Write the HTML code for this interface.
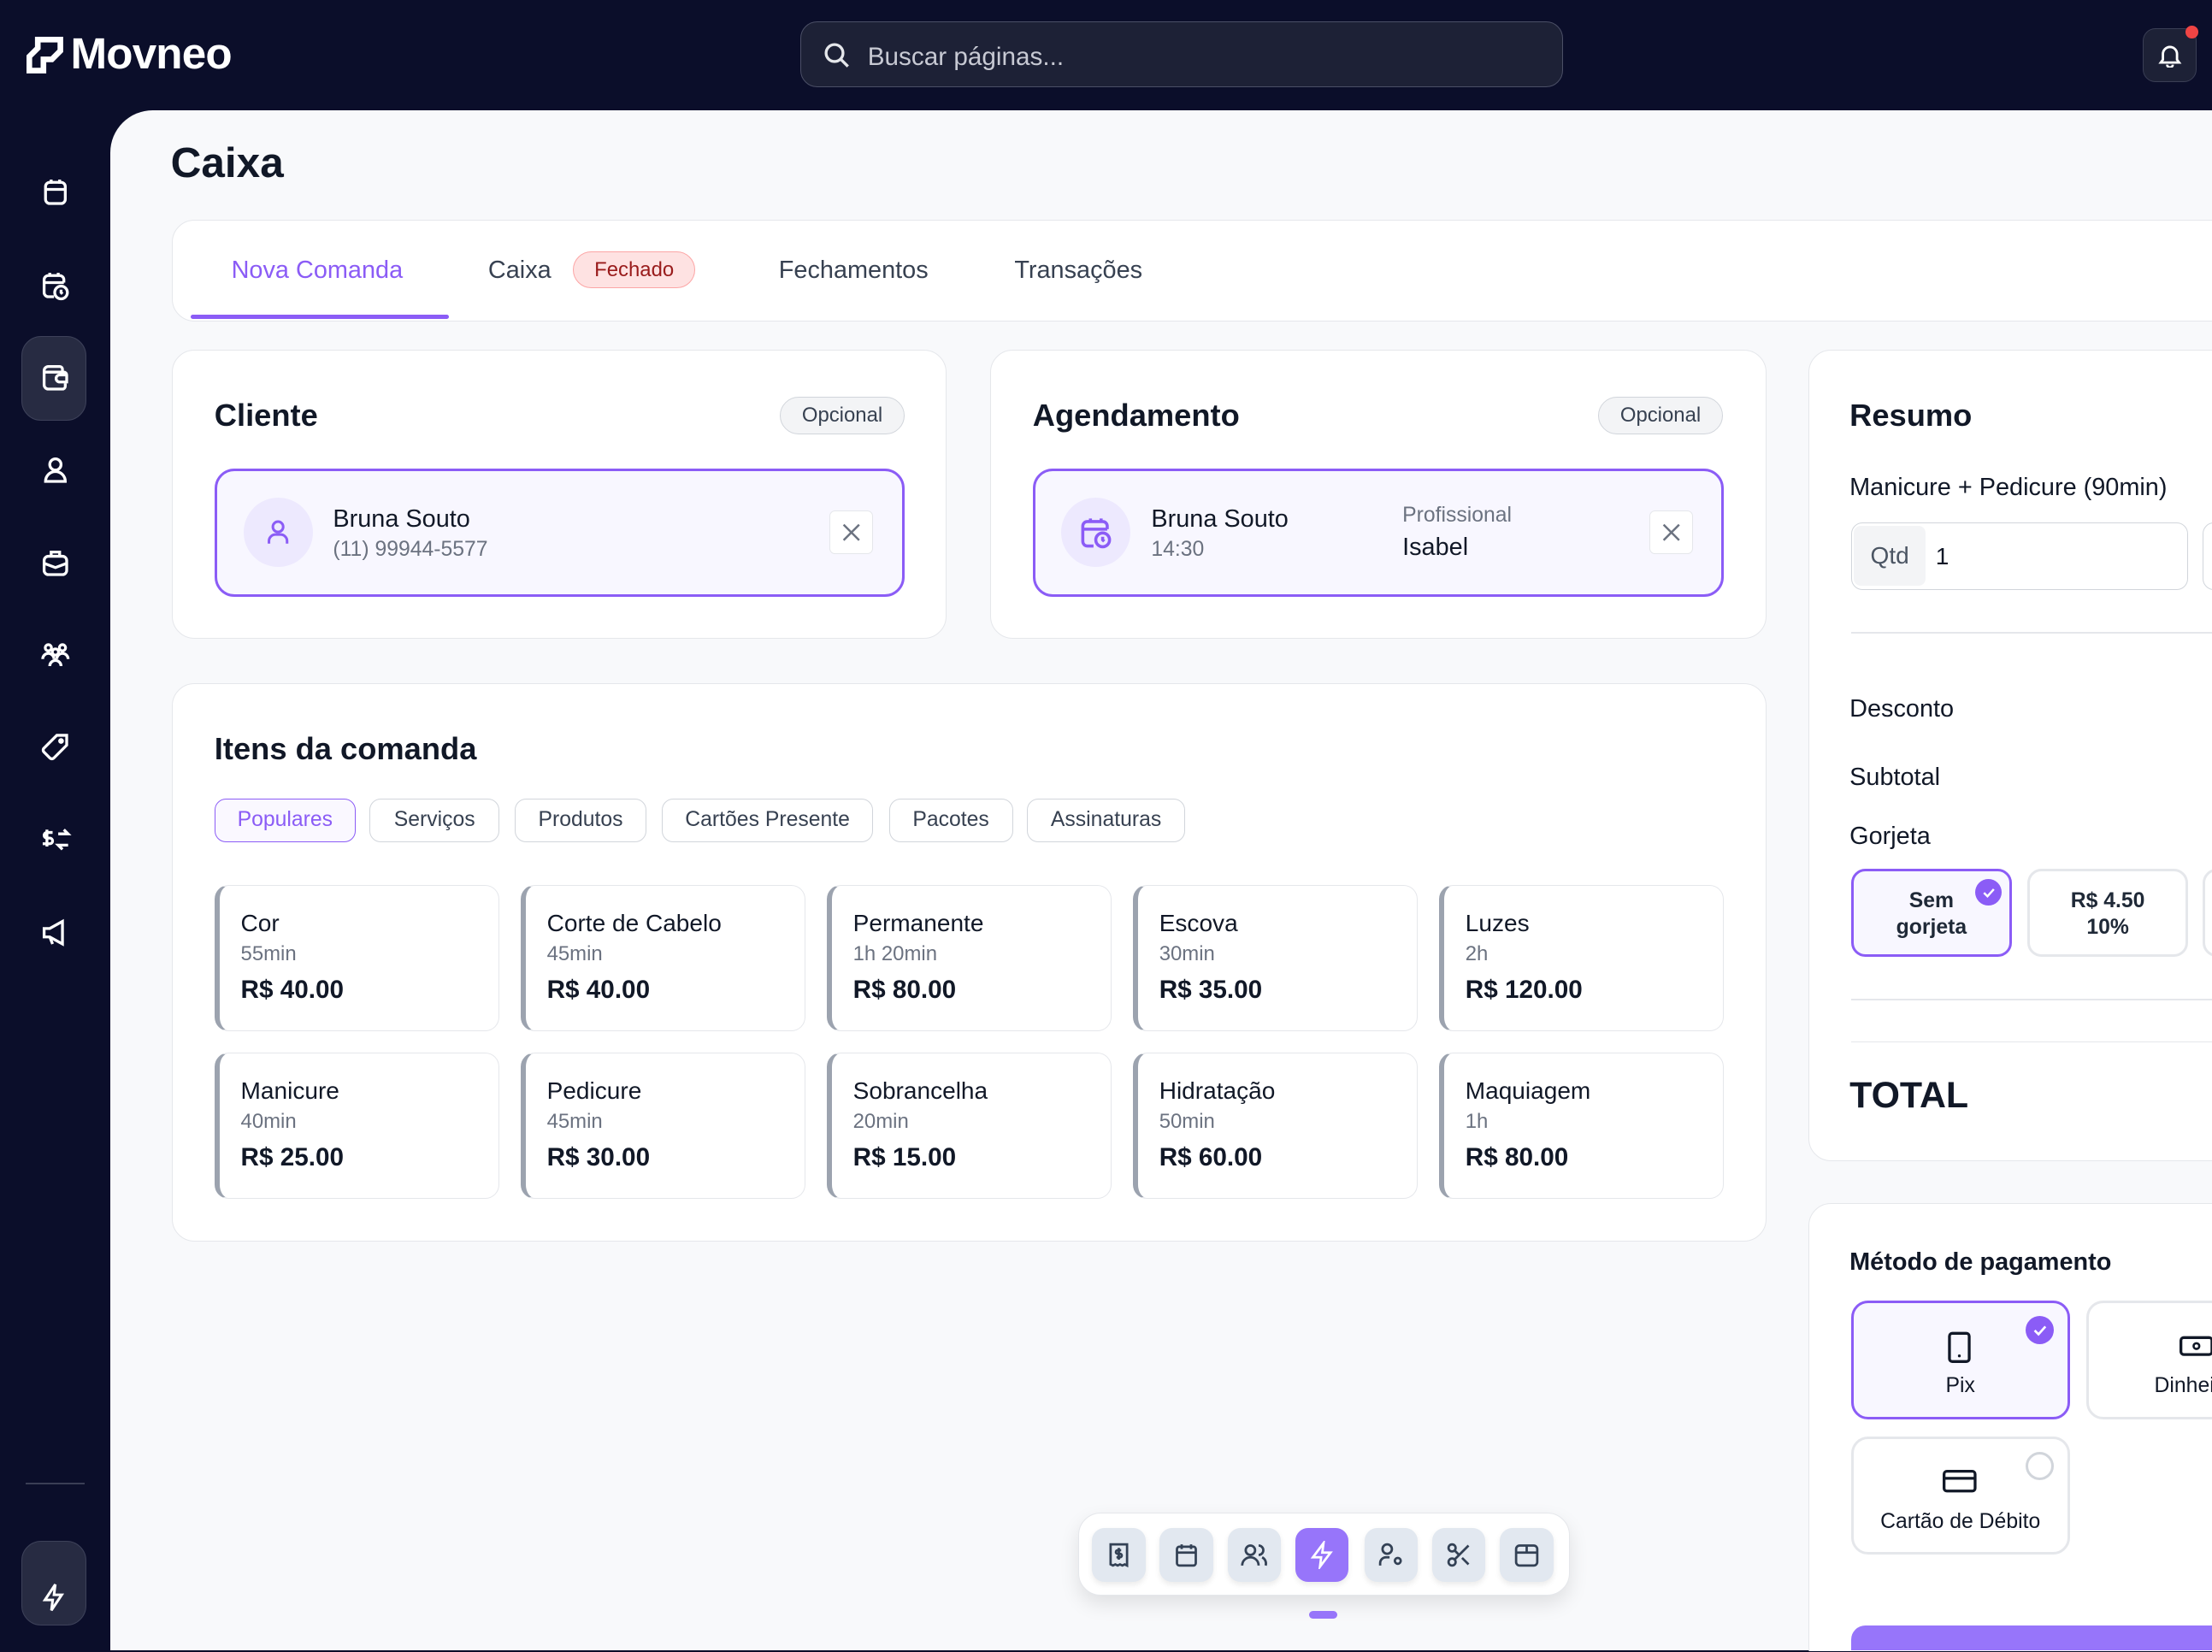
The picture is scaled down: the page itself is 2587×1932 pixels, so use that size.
<!DOCTYPE html>
<html><head><meta charset="utf-8"><style>
html,body{margin:0;padding:0;width:2587px;height:1932px;overflow:hidden;background:#0b0e2a}
#r{zoom:1.65;position:relative;width:1568px;height:1170px;overflow:hidden;background:#0b0e2a;font-family:"Liberation Sans",sans-serif;color:#111827}
.a{position:absolute}
.card{position:absolute;background:#fff;border:1px solid #e5e7eb;border-radius:16px;box-sizing:border-box}
.t{position:absolute;white-space:nowrap}
.chip{position:absolute;top:566px;height:31px;border:1px solid #d1d5db;border-radius:8px;box-sizing:border-box;font-size:15px;color:#374151;text-align:center;line-height:29px;background:#fff}
.item{position:absolute;width:202px;height:104px;background:#fff;border:1px solid #e5e7eb;border-left:4px solid #9ca3af;border-radius:10px;box-sizing:border-box}
.item .n{position:absolute;left:15px;top:17px;font-size:17px;color:#111827}
.item .d{position:absolute;left:15px;top:40px;font-size:14.5px;color:#6b7280}
.item .p{position:absolute;left:15px;top:64px;font-size:18px;font-weight:bold;color:#111827}
.sic{position:absolute;left:27px;width:24px;height:24px}
.db{position:absolute;top:1083px;width:38px;height:38px;border-radius:9px;background:#e2e8f0;box-shadow:0 2px 4px rgba(0,0,0,.08)}
svg{display:block}
</style></head><body><div id="r">
<svg class="a" style="left:19px;top:26px" width="26" height="26" viewBox="0 0 26 26"><path d="M8 2h16v8l-6 6h-6v8H2v-10l6-6z" fill="none" stroke="#fff" stroke-width="4"/></svg>
<div class="t" style="left:50px;top:20px;font-size:31px;font-weight:bold;color:#fff;letter-spacing:-0.5px">Movneo</div>
<div class="a" style="left:567px;top:15px;width:541px;height:47px;box-sizing:border-box;border:1px solid #4b4f66;border-radius:12px;background:#1d2136"></div>
<svg class="a" style="left:583px;top:29px" width="20" height="20" viewBox="0 0 20 20"><circle cx="8.5" cy="8.5" r="6" fill="none" stroke="#e5e7eb" stroke-width="2"/><path d="M13 13l5 5" stroke="#e5e7eb" stroke-width="2"/></svg>
<div class="t" style="left:615px;top:30px;font-size:18px;color:#c7c9d3">Buscar páginas...</div>
<div class="a" style="left:1519px;top:20px;width:38px;height:38px;border-radius:9px;background:#1d2136;border:1px solid #3a3e55;box-sizing:border-box"></div>
<svg class="a" style="left:1529px;top:30px" width="18" height="18" viewBox="0 0 18 18"><path d="M4 12V8a5 5 0 0110 0v4l1.5 2h-13z M7 15.5a2 2 0 004 0" fill="none" stroke="#fff" stroke-width="1.7"/></svg>
<div class="a" style="left:1549px;top:18px;width:9px;height:9px;border-radius:50%;background:#ef4444"></div>
<div class="a" style="left:15px;top:238px;width:46px;height:60px;border-radius:14px;background:#272b42;border:1px solid #3d4159;box-sizing:border-box"></div>
<svg class="sic" style="top:124px" viewBox="0 0 24 24" fill="none" stroke="#fff" stroke-width="2"><rect x="5" y="5" width="14" height="15" rx="3"/><path d="M5 10h14M9 3v3M15 3v3"/></svg>
<svg class="sic" style="top:190px" viewBox="0 0 24 24" fill="none" stroke="#fff" stroke-width="2"><path d="M11 20H7a3 3 0 01-3-3V8a3 3 0 013-3h8a3 3 0 013 3v2M4 10h14M8 3v3M14 3v3"/><circle cx="16" cy="17" r="4.5"/><path d="M16 15v2l1 1"/></svg>
<svg class="sic" style="top:256px" viewBox="0 0 24 24" fill="none" stroke="#fff" stroke-width="2"><path d="M17 7V6a2 2 0 00-2-2H7a3 3 0 00-3 3v10a3 3 0 003 3h10a2 2 0 002-2v-2"/><path d="M4 8h14a2 2 0 012 2v5h-5a2.5 2.5 0 010-5h5"/></svg>
<svg class="sic" style="top:321px" viewBox="0 0 24 24" fill="none" stroke="#fff" stroke-width="2"><circle cx="12" cy="8" r="4"/><path d="M5 20a7 7 0 0114 0z"/></svg>
<svg class="sic" style="top:387px" viewBox="0 0 24 24" fill="none" stroke="#fff" stroke-width="2"><rect x="4" y="7" width="16" height="13" rx="3"/><path d="M9 7V4h6v3M4 12l8 3 8-3"/></svg>
<svg class="sic" style="top:452px" viewBox="0 0 24 24" fill="none" stroke="#fff" stroke-width="2"><circle cx="7" cy="7" r="2.2"/><circle cx="17" cy="7" r="2.2"/><circle cx="12" cy="10" r="2.2"/><path d="M3 15a4 4 0 018 0M13 15a4 4 0 018 0M8 20a4 4 0 018 0"/></svg>
<svg class="sic" style="top:518px" viewBox="0 0 24 24" fill="none" stroke="#fff" stroke-width="2"><path d="M13 3h7v7L11 19a2 2 0 01-3 0l-4-4a2 2 0 010-3z"/><circle cx="16" cy="7" r="1"/></svg>
<svg class="sic" style="top:583px" viewBox="0 0 24 24" fill="none" stroke="#fff" stroke-width="2"><path d="M10 7H6a2 2 0 000 4h2a2 2 0 010 4H3M6 5v12M14 8h7l-3-3M21 16h-7l3 3"/></svg>
<svg class="sic" style="top:649px" viewBox="0 0 24 24" fill="none" stroke="#fff" stroke-width="2"><path d="M4 9h4l9-5v16l-9-5H4z M8 15l2 5"/></svg>
<div class="a" style="left:18px;top:1051px;width:42px;height:1px;background:#3a3e55"></div>
<div class="a" style="left:15px;top:1092px;width:46px;height:60px;border-radius:14px;background:#272b42;border:1px solid #3d4159;box-sizing:border-box"></div>
<svg class="a" style="left:27px;top:1121px" width="22" height="22" viewBox="0 0 24 24" fill="none" stroke="#fff" stroke-width="2"><path d="M13 2L5 14h6l-1 8 8-12h-6z"/></svg>
<div class="a" style="left:78px;top:78px;width:1490px;height:1092px;background:#f8f9fb;border-top-left-radius:30px"></div>
<div class="t" style="left:121px;top:98px;font-size:30px;font-weight:bold;color:#111827">Caixa</div>
<div class="card" style="left:122px;top:156px;width:1470px;height:72px"></div>
<div class="t" style="left:164px;top:182px;font-size:17.5px;color:#8b5cf6">Nova Comanda</div>
<div class="a" style="left:135px;top:223px;width:183px;height:3px;background:#8b5cf6;border-radius:2px"></div>
<div class="t" style="left:346px;top:182px;font-size:17.5px;color:#374151">Caixa</div>
<div class="a" style="left:406px;top:178px;width:87px;height:26px;box-sizing:border-box;border:1px solid #fca5a5;background:#fee2e2;border-radius:13px;color:#991b1b;font-size:14.5px;text-align:center;line-height:25px">Fechado</div>
<div class="t" style="left:552px;top:182px;font-size:17.5px;color:#374151">Fechamentos</div>
<div class="t" style="left:719px;top:182px;font-size:17.5px;color:#374151">Transações</div>
<div class="card" style="left:122px;top:248px;width:549px;height:205px"></div>
<div class="t" style="left:152px;top:282px;font-size:22px;font-weight:bold">Cliente</div>
<div class="a" style="left:553px;top:281px;width:88px;height:27px;box-sizing:border-box;border:1px solid #d1d5db;background:#f3f4f6;border-radius:14px;font-size:14.5px;color:#374151;text-align:center;line-height:26px">Opcional</div>
<div class="a" style="left:152px;top:332px;width:489px;height:91px;box-sizing:border-box;border:2px solid #8b5cf6;border-radius:14px;background:#f8f7ff"></div>
<div class="a" style="left:173px;top:353px;width:49px;height:49px;border-radius:50%;background:#ede9fe"></div>
<svg class="a" style="left:186px;top:366px" width="22" height="22" viewBox="0 0 24 24" fill="none" stroke="#8b5cf6" stroke-width="2"><circle cx="12" cy="8" r="4"/><path d="M5 21v-2a5 5 0 015-5h4a5 5 0 015 5v2"/></svg>
<div class="t" style="left:236px;top:358px;font-size:17.5px;color:#111827">Bruna Souto</div>
<div class="t" style="left:236px;top:381px;font-size:15px;color:#6b7280">(11) 99944-5577</div>
<div class="a" style="left:588px;top:362px;width:31px;height:31px;box-sizing:border-box;border:1px solid #e5e7eb;background:#fff;border-radius:4px"></div>
<svg class="a" style="left:597px;top:371px" width="13" height="13" viewBox="0 0 13 13"><path d="M1 1l11 11M12 1L1 12" stroke="#6b7280" stroke-width="1.5"/></svg>
<div class="card" style="left:702px;top:248px;width:550px;height:205px"></div>
<div class="t" style="left:732px;top:282px;font-size:22px;font-weight:bold">Agendamento</div>
<div class="a" style="left:1133px;top:281px;width:88px;height:27px;box-sizing:border-box;border:1px solid #d1d5db;background:#f3f4f6;border-radius:14px;font-size:14.5px;color:#374151;text-align:center;line-height:26px">Opcional</div>
<div class="a" style="left:732px;top:332px;width:490px;height:91px;box-sizing:border-box;border:2px solid #8b5cf6;border-radius:14px;background:#f8f7ff"></div>
<div class="a" style="left:752px;top:353px;width:49px;height:49px;border-radius:50%;background:#ede9fe"></div>
<svg class="a" style="left:764px;top:364px" width="26" height="26" viewBox="0 0 24 24" fill="none" stroke="#8b5cf6" stroke-width="2"><path d="M10 21H6a3 3 0 01-3-3V8a3 3 0 013-3h10a3 3 0 013 3v2M3 10h16M8 3v3M15 3v3"/><circle cx="16" cy="17" r="4.5"/><path d="M16 15v2l1 1"/></svg>
<div class="t" style="left:816px;top:358px;font-size:17.5px;color:#111827">Bruna Souto</div>
<div class="t" style="left:816px;top:381px;font-size:15px;color:#6b7280">14:30</div>
<div class="t" style="left:994px;top:357px;font-size:15px;color:#6b7280">Profissional</div>
<div class="t" style="left:994px;top:378px;font-size:17.5px;color:#111827">Isabel</div>
<div class="a" style="left:1169px;top:362px;width:31px;height:31px;box-sizing:border-box;border:1px solid #e5e7eb;background:#fff;border-radius:4px"></div>
<svg class="a" style="left:1178px;top:371px" width="13" height="13" viewBox="0 0 13 13"><path d="M1 1l11 11M12 1L1 12" stroke="#6b7280" stroke-width="1.5"/></svg>
<div class="card" style="left:122px;top:484px;width:1130px;height:396px"></div>
<div class="t" style="left:152px;top:518px;font-size:22px;font-weight:bold">Itens da comanda</div>
<div class="chip" style="left:152px;width:100px;border-color:#8b5cf6;color:#8b5cf6;background:#faf8ff">Populares</div>
<div class="chip" style="left:262px;width:92px">Serviços</div>
<div class="chip" style="left:365px;width:93px">Produtos</div>
<div class="chip" style="left:469px;width:150px">Cartões Presente</div>
<div class="chip" style="left:630px;width:88px">Pacotes</div>
<div class="chip" style="left:728px;width:112px">Assinaturas</div>
<div class="item" style="left:152px;top:627px"><div class="n">Cor</div><div class="d">55min</div><div class="p">R$ 40.00</div></div>
<div class="item" style="left:369px;top:627px"><div class="n">Corte de Cabelo</div><div class="d">45min</div><div class="p">R$ 40.00</div></div>
<div class="item" style="left:586px;top:627px"><div class="n">Permanente</div><div class="d">1h 20min</div><div class="p">R$ 80.00</div></div>
<div class="item" style="left:803px;top:627px"><div class="n">Escova</div><div class="d">30min</div><div class="p">R$ 35.00</div></div>
<div class="item" style="left:1020px;top:627px"><div class="n">Luzes</div><div class="d">2h</div><div class="p">R$ 120.00</div></div>
<div class="item" style="left:152px;top:746px"><div class="n">Manicure</div><div class="d">40min</div><div class="p">R$ 25.00</div></div>
<div class="item" style="left:369px;top:746px"><div class="n">Pedicure</div><div class="d">45min</div><div class="p">R$ 30.00</div></div>
<div class="item" style="left:586px;top:746px"><div class="n">Sobrancelha</div><div class="d">20min</div><div class="p">R$ 15.00</div></div>
<div class="item" style="left:803px;top:746px"><div class="n">Hidratação</div><div class="d">50min</div><div class="p">R$ 60.00</div></div>
<div class="item" style="left:1020px;top:746px"><div class="n">Maquiagem</div><div class="d">1h</div><div class="p">R$ 80.00</div></div>
<div class="card" style="left:1282px;top:248px;width:310px;height:575px"></div>
<div class="t" style="left:1311px;top:282px;font-size:22px;font-weight:bold">Resumo</div>
<div class="t" style="left:1311px;top:336px;font-size:17.5px">Manicure + Pedicure (90min)</div>
<div class="a" style="left:1312px;top:370px;width:239px;height:48px;box-sizing:border-box;border:1px solid #d1d5db;border-radius:8px;background:#fff"></div>
<div class="a" style="left:1314px;top:373px;width:51px;height:42px;border-radius:5px;background:#f3f4f6;font-size:17px;color:#4b5563;text-align:center;line-height:42px">Qtd</div>
<div class="t" style="left:1372px;top:385px;font-size:17px">1</div>
<div class="a" style="left:1561px;top:370px;width:60px;height:48px;box-sizing:border-box;border:1px solid #d1d5db;border-radius:8px;background:#fff"></div>
<div class="a" style="left:1312px;top:448px;width:300px;height:1px;background:#e5e7eb"></div>
<div class="t" style="left:1311px;top:493px;font-size:17.5px;color:#111827">Desconto</div>
<div class="t" style="left:1311px;top:541px;font-size:17.5px;color:#111827">Subtotal</div>
<div class="t" style="left:1311px;top:583px;font-size:17.5px;color:#111827">Gorjeta</div>
<div class="a" style="left:1312px;top:616px;width:114px;height:62px;box-sizing:border-box;border:2px solid #8b5cf6;border-radius:10px;background:#f8f7ff;font-size:15px;font-weight:bold;text-align:center;padding-top:11px;line-height:19px;color:#1f2937">Sem<br>gorjeta</div>
<div class="a" style="left:1400px;top:623px;width:19px;height:19px;border-radius:50%;background:#8b5cf6"></div>
<svg class="a" style="left:1404px;top:627px" width="11" height="11" viewBox="0 0 11 11"><path d="M2 5.5l2.5 2.5L9 3" fill="none" stroke="#fff" stroke-width="1.5"/></svg>
<div class="a" style="left:1437px;top:616px;width:114px;height:62px;box-sizing:border-box;border:2px solid #e5e7eb;border-radius:10px;background:#fff;font-size:15px;font-weight:bold;text-align:center;padding-top:11px;line-height:19px;color:#1f2937">R$ 4.50<br>10%</div>
<div class="a" style="left:1561px;top:616px;width:60px;height:62px;box-sizing:border-box;border:2px solid #e5e7eb;border-radius:10px;background:#fff"></div>
<div class="a" style="left:1312px;top:708px;width:300px;height:1px;background:#e5e7eb"></div>
<div class="a" style="left:1312px;top:738px;width:300px;height:1px;background:#e5e7eb"></div>
<div class="t" style="left:1311px;top:762px;font-size:26px;font-weight:bold">TOTAL</div>
<div class="card" style="left:1282px;top:853px;width:310px;height:330px"></div>
<div class="t" style="left:1311px;top:885px;font-size:17.5px;font-weight:bold">Método de pagamento</div>
<div class="a" style="left:1312px;top:922px;width:155px;height:84px;box-sizing:border-box;border:2px solid #8b5cf6;border-radius:12px;background:#f8f7ff"></div>
<svg class="a" style="left:1379px;top:943px" width="20" height="24" viewBox="0 0 20 24"><rect x="3" y="2" width="14" height="20" rx="2" fill="none" stroke="#111827" stroke-width="2"/><circle cx="10" cy="18" r="1" fill="#111827"/></svg>
<div class="t" style="left:1312px;top:974px;width:155px;text-align:center;font-size:15px">Pix</div>
<div class="a" style="left:1436px;top:933px;width:20px;height:20px;border-radius:50%;background:#8b5cf6"></div>
<svg class="a" style="left:1440px;top:937px" width="12" height="12" viewBox="0 0 11 11"><path d="M2 5.5l2.5 2.5L9 3" fill="none" stroke="#fff" stroke-width="1.5"/></svg>
<div class="a" style="left:1479px;top:922px;width:155px;height:84px;box-sizing:border-box;border:2px solid #e5e7eb;border-radius:12px;background:#fff"></div>
<svg class="a" style="left:1545px;top:946px" width="24" height="16" viewBox="0 0 24 16"><rect x="1" y="2" width="22" height="12" rx="2" fill="none" stroke="#111827" stroke-width="2"/><circle cx="12" cy="8" r="2" fill="none" stroke="#111827" stroke-width="1.6"/></svg>
<div class="t" style="left:1527px;top:974px;font-size:15px">Dinheiro</div>
<div class="a" style="left:1312px;top:1018px;width:155px;height:84px;box-sizing:border-box;border:2px solid #e5e7eb;border-radius:12px;background:#fff"></div>
<svg class="a" style="left:1377px;top:1042px" width="24" height="16" viewBox="0 0 24 16"><rect x="1" y="1" width="22" height="14" rx="2" fill="none" stroke="#111827" stroke-width="2"/><path d="M1 6h22" stroke="#111827" stroke-width="2"/></svg>
<div class="t" style="left:1312px;top:1070px;width:155px;text-align:center;font-size:15px">Cartão de Débito</div>
<div class="a" style="left:1436px;top:1029px;width:20px;height:20px;border-radius:50%;box-sizing:border-box;border:2px solid #d1d5db;background:#fff"></div>
<div class="a" style="left:1312px;top:1152px;width:256px;height:18px;border-radius:10px 0 0 0;background:#9775fa"></div>
<div class="a" style="left:764px;top:1072px;width:349px;height:59px;background:#fff;border:1px solid #e5e7eb;border-radius:16px;box-sizing:border-box;box-shadow:0 6px 14px rgba(0,0,0,.1)"></div>
<div class="db" style="left:774px"></div><div class="db" style="left:822px"></div><div class="db" style="left:870px"></div>
<div class="db" style="left:918px;background:#9775fa"></div>
<div class="db" style="left:967px"></div><div class="db" style="left:1015px"></div><div class="db" style="left:1063px"></div>
<svg class="a" style="left:783px;top:1092px" width="20" height="20" viewBox="0 0 24 24" fill="none" stroke="#334155" stroke-width="2"><path d="M5 3h14v18l-2-1-2 1-2-1-2 1-2-1-2 1-2-1z M14 8h-3a1.5 1.5 0 000 3h2a1.5 1.5 0 010 3h-3M12 6v10"/></svg>
<svg class="a" style="left:831px;top:1092px" width="20" height="20" viewBox="0 0 24 24" fill="none" stroke="#334155" stroke-width="2"><rect x="4" y="5" width="16" height="16" rx="2"/><path d="M4 10h16M8 3v4M16 3v4"/></svg>
<svg class="a" style="left:879px;top:1092px" width="20" height="20" viewBox="0 0 24 24" fill="none" stroke="#334155" stroke-width="2"><circle cx="9" cy="8" r="4"/><path d="M2 21a7 7 0 0114 0M16 4a4 4 0 010 8M19 14a6 6 0 013 7"/></svg>
<svg class="a" style="left:927px;top:1092px" width="20" height="20" viewBox="0 0 24 24" fill="none" stroke="#fff" stroke-width="2"><path d="M13 2L4 14h7l-1 8 9-12h-7z"/></svg>
<svg class="a" style="left:976px;top:1092px" width="20" height="20" viewBox="0 0 24 24" fill="none" stroke="#334155" stroke-width="2"><circle cx="9" cy="7" r="4"/><path d="M3 21v-2a5 5 0 015-5h3"/><circle cx="18" cy="17" r="2.5"/></svg>
<svg class="a" style="left:1024px;top:1092px" width="20" height="20" viewBox="0 0 24 24" fill="none" stroke="#334155" stroke-width="2"><circle cx="6" cy="6" r="3"/><circle cx="6" cy="18" r="3"/><path d="M20 4L8.1 15.9M14.5 14.5L20 20M8.1 8.1L12 12"/></svg>
<svg class="a" style="left:1072px;top:1092px" width="20" height="20" viewBox="0 0 24 24" fill="none" stroke="#334155" stroke-width="2"><rect x="3" y="4" width="18" height="17" rx="3"/><path d="M3 10h18M12 4v6"/></svg>
<div class="a" style="left:928px;top:1142px;width:20px;height:5px;border-radius:3px;background:#9775fa"></div>
</div></body></html>
